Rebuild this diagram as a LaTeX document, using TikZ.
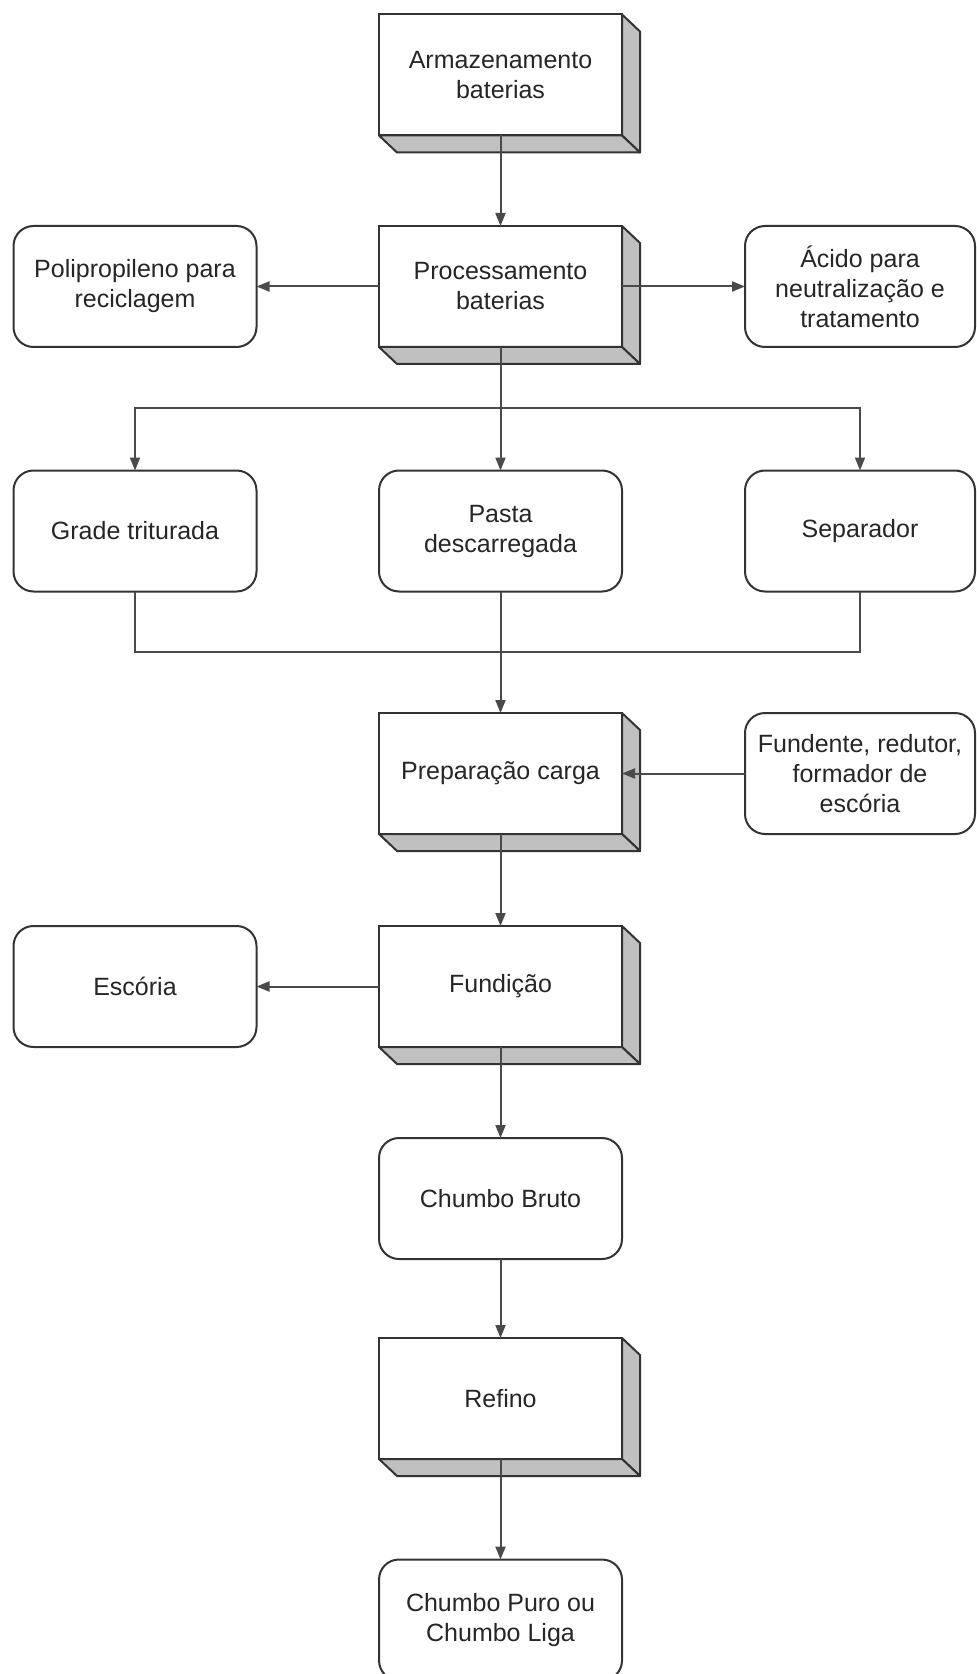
\documentclass[tikz,border=0pt]{standalone}
\usepackage{fontspec}
\setmainfont{Liberation Sans}
\usetikzlibrary{positioning, arrows.meta, calc}
\definecolor{linegray}{HTML}{333333}
\definecolor{arrowgray}{HTML}{4A4A4A}
\definecolor{sidegray}{HTML}{C0C0C0}
\tikzset{
	x=0.5pt, y=-0.5pt, % one unit is one pixel of the reference
	>={Triangle[length=6.5pt, width=5pt]}, % filled arrow heads
	every node/.style={font=\fontsize{12.5}{15}\selectfont, align=center, text=black!85},
	procbox/.style={draw=linegray, line width=1pt, fill=white, minimum width=121.5pt, minimum height=60.5pt, inner sep=0pt, outer sep=0pt}, % front face of a process block
	roundbox/.style={procbox, rounded corners=10pt}, % products and inputs
	sidebox/.style={roundbox, minimum width=115pt}, % boxes of the right column
	side/.style={draw=linegray, fill=sidegray, line width=1pt, line join=round}, % depth of a process block
	flow/.style={draw=arrowgray, line width=1pt},
}
\begin{document}
\begin{tikzpicture}
	\useasboundingbox (0,0) rectangle (976,1674);
	% main line
	\node[procbox] (arm) at (500.5,75) {Armazenamento\\baterias};
	\node[procbox] (proc) at (500.5,286.5) {Processamento\\baterias};
	\node[roundbox] (poli) at (135,286.5) {Polipropileno para\\reciclagem};
	\node[sidebox] (acid) at (860,286.5) {Ácido para\\neutralização e\\tratamento};
	\node[roundbox] (grade) at (135,531) {Grade triturada};
	\node[roundbox] (pasta) at (500.5,531) {Pasta\\descarregada};
	\node[sidebox] (sep) at (860,531) {Separador};
	\node[procbox] (prep) at (500.5,773.5) {Preparação carga};
	\node[sidebox] (aditivo) at (860,773.5) {Fundente, redutor,\\formador de\\escória};
	\node[procbox] (fund) at (500.5,986.5) {Fundição};
	\node[roundbox] (esc) at (135,986.5) {Escória};
	\node[roundbox] (bruto) at (500.5,1198.5) {Chumbo Bruto};
	\node[procbox] (refino) at (500.5,1398.5) {Refino};
	\node[roundbox] (puro) at (500.5,1620) {Chumbo Puro ou\\Chumbo Liga};
	% depth of the process blocks
	\foreach \n in {arm, proc, prep, fund, refino} {
		\draw[side] (\n.north east) -- ++(18,17) -- ($(\n.south east)+(18,17)$) -- (\n.south east) -- cycle;
		\draw[side] (\n.south west) -- ++(18,17) -- ($(\n.south east)+(18,17)$) -- (\n.south east) -- cycle;
	}
	\coordinate (split) at (500.5,408);
	\coordinate (join) at (500.5,652);
	\draw[flow, ->] (arm) -- (proc);
	\draw[flow, ->] (proc) -- (poli);
	\draw[flow, ->] (proc) -- (acid);
	\draw[flow] (proc) -- (split);
	\draw[flow, ->] (split) -| (grade);
	\draw[flow, ->] (split) -- (pasta);
	\draw[flow, ->] (split) -| (sep);
	\draw[flow] (grade) |- (join);
	\draw[flow] (sep) |- (join);
	\draw[flow, ->] (pasta) -- (prep);
	\draw[flow, ->] (aditivo) -- (prep);
	\draw[flow, ->] (prep) -- (fund);
	\draw[flow, ->] (fund) -- (esc);
	\draw[flow, ->] (fund) -- (bruto);
	\draw[flow, ->] (bruto) -- (refino);
	\draw[flow, ->] (refino) -- (puro);
\end{tikzpicture}
\end{document}
